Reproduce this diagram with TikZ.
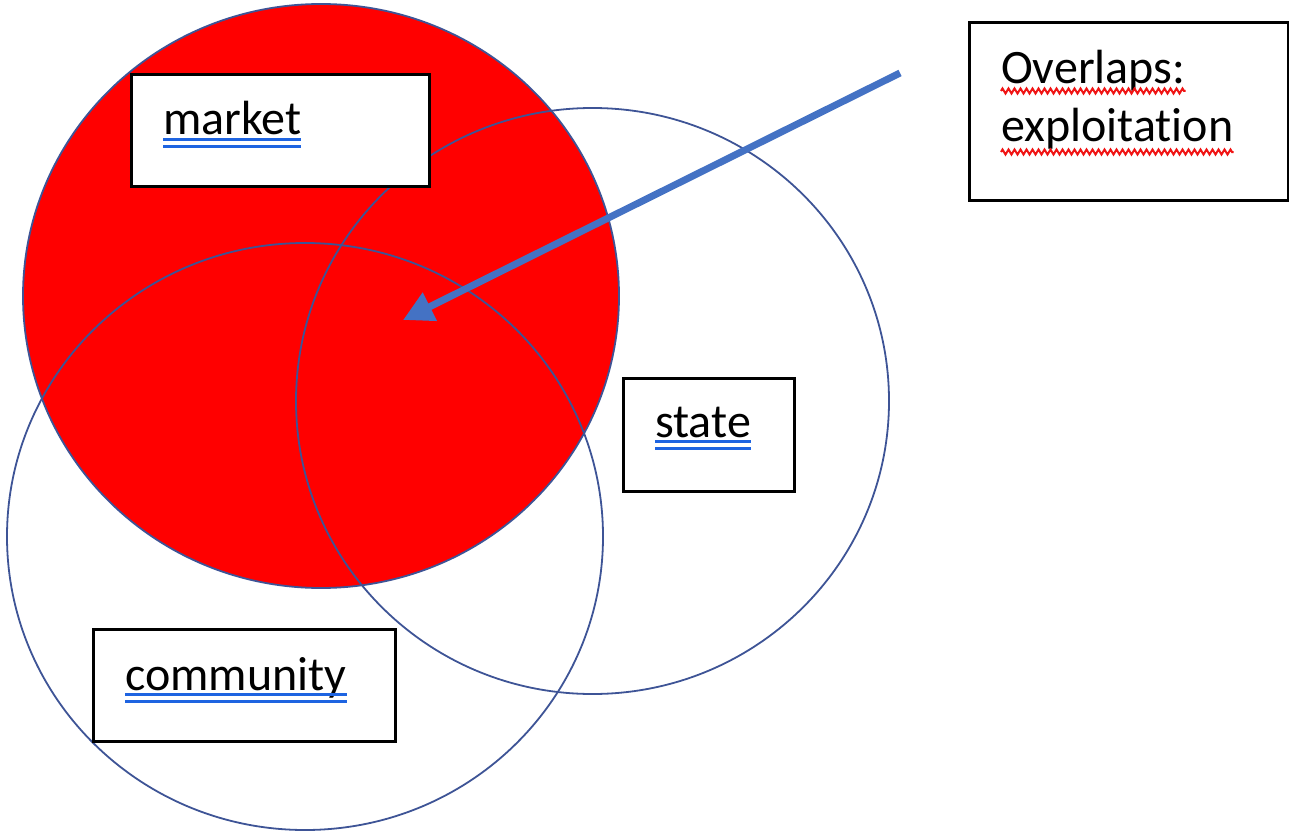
\documentclass[tikz,border=0pt]{standalone}
\usepackage{fontspec}
\setmainfont{Carlito}[Ligatures=NoCommon]
\usetikzlibrary{arrows.meta,decorations.pathmorphing}
\definecolor{ring}{RGB}{62,84,150}
\definecolor{mred}{RGB}{255,0,0}
\definecolor{ulblue}{RGB}{30,100,225}
\definecolor{arrblue}{RGB}{68,114,196}
\definecolor{spellred}{RGB}{240,20,20}
\tikzset{
  ringline/.style={draw=ring, line width=1.8pt},
  labelbox/.style={draw=black, fill=white, line width=3pt, inner sep=0pt, anchor=north west},
  lbl/.style={inner sep=0pt, anchor=base west, font=\fontsize{48}{58}\selectfont},
  dblul/.style={draw=ulblue, line width=3pt},
  spell/.style={draw=spellred, line width=2pt, decorate, decoration={zigzag, amplitude=2.5pt, segment length=6pt}},
  bigarrow/.style={draw=arrblue, line width=7pt, -{Triangle[length=30pt,width=30pt]}}
}
\begin{document}
\begin{tikzpicture}[x=1pt,y=-1pt]
\useasboundingbox (0,0) rectangle (1289,832);
% market circle (filled)
\fill[mred] (321,296) ellipse [x radius=298pt, y radius=292pt];
\draw[ringline] (321,296) ellipse [x radius=298pt, y radius=292pt];
% state and community circles
\draw[ringline] (592.5,401) ellipse [x radius=296.5pt, y radius=293pt];
\draw[ringline] (305,536.5) ellipse [x radius=298pt, y radius=293.5pt];
% boxes
\node[labelbox, minimum width=298pt, minimum height=112pt] (mbox) at (130,73) {};
\node[labelbox, minimum width=171pt, minimum height=113pt] (sbox) at (622,377) {};
\node[labelbox, minimum width=302pt, minimum height=112pt] (cbox) at (92,628) {};
\node[labelbox, minimum width=319pt, minimum height=178pt] (obox) at (968,21) {};
% labels
\node[lbl] (mtxt) at (163,135) {market};
\node[lbl] (stxt) at (655,437) {state};
\node[lbl] (ctxt) at (125,690) {community};
\node[lbl] (otxt1) at (1001,84) {Overlaps:};
\node[lbl] (otxt2) at (1001,141) {exploitation};
% double underlines
\foreach \t in {mtxt,stxt,ctxt}{
  \draw[dblul] ([yshift=-4.5pt]\t.base west) -- ([yshift=-4.5pt]\t.base east);
  \draw[dblul] ([yshift=-11pt]\t.base west) -- ([yshift=-11pt]\t.base east);
}
% spelling squiggles
\draw[spell] ([yshift=-7pt]otxt1.base west) -- ([yshift=-7pt]otxt1.base east);
\draw[spell] ([yshift=-11pt]otxt2.base west) -- ([yshift=-11pt]otxt2.base east);
% arrow
\coordinate (arrS) at (900,73);
\coordinate (arrE) at (403,320);
\draw[bigarrow] (arrS) -- (arrE);
\end{tikzpicture}
\end{document}
